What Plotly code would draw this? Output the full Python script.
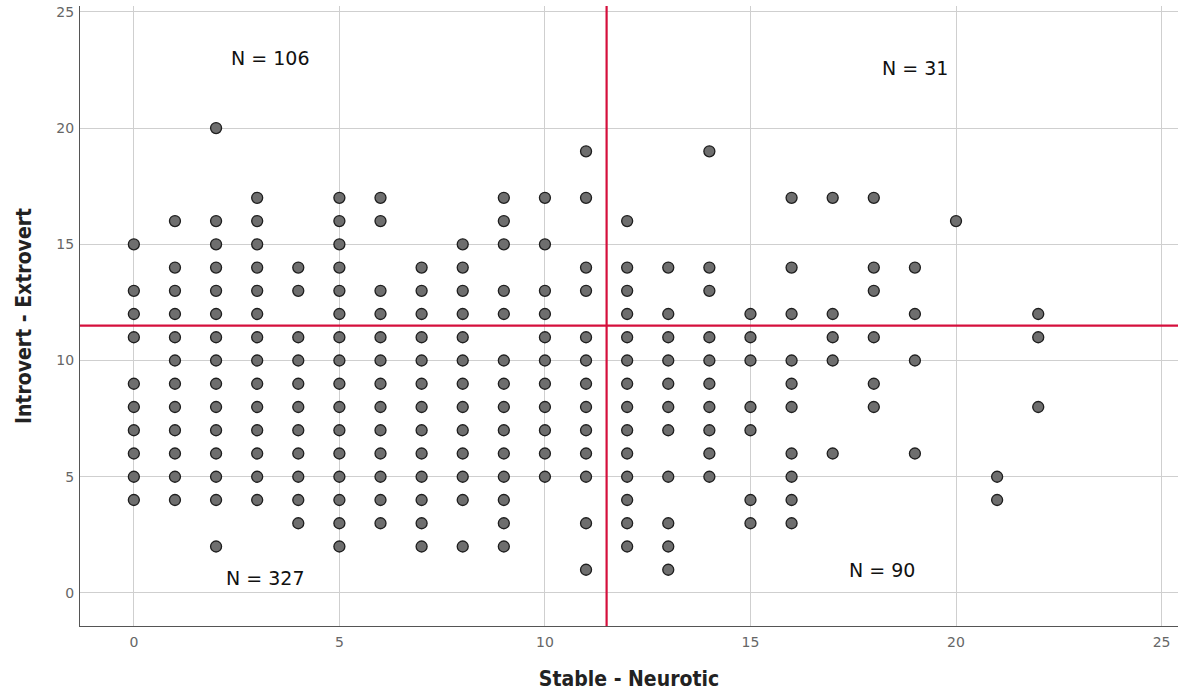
import plotly.graph_objects as go

# Stable - Neurotic score (x) and the Introvert - Extrovert scores observed at each x
neurotic_scores = list(range(23))
extrovert_at_score = [
    [15, 13, 12, 11, 9, 8, 7, 6, 5, 4],                                   # 0
    [16, 14, 13, 12, 11, 10, 9, 8, 7, 6, 5, 4],                           # 1
    [20, 16, 15, 14, 13, 12, 11, 10, 9, 8, 7, 6, 5, 4, 2],                # 2
    [17, 16, 15, 14, 13, 12, 11, 10, 9, 8, 7, 6, 5, 4],                   # 3
    [14, 13, 11, 10, 9, 8, 7, 6, 5, 4, 3],                                # 4
    [17, 16, 15, 14, 13, 12, 11, 10, 9, 8, 7, 6, 5, 4, 3, 2],             # 5
    [17, 16, 13, 12, 11, 10, 9, 8, 7, 6, 5, 4, 3],                        # 6
    [14, 13, 12, 11, 10, 9, 8, 7, 6, 5, 4, 3, 2],                         # 7
    [15, 14, 13, 12, 11, 10, 9, 8, 7, 6, 5, 4, 2],                        # 8
    [17, 16, 15, 13, 12, 10, 9, 8, 7, 6, 5, 4, 3, 2],                     # 9
    [17, 15, 13, 12, 11, 10, 9, 8, 7, 6, 5],                              # 10
    [19, 17, 14, 13, 11, 10, 9, 8, 7, 6, 5, 3, 1],                        # 11
    [16, 14, 13, 12, 11, 10, 9, 8, 7, 6, 5, 4, 3, 2],                     # 12
    [14, 12, 11, 10, 9, 8, 7, 5, 3, 2, 1],                                # 13
    [19, 14, 13, 11, 10, 9, 8, 7, 6, 5],                                  # 14
    [12, 11, 10, 8, 7, 4, 3],                                             # 15
    [17, 14, 12, 10, 9, 8, 6, 5, 4, 3],                                   # 16
    [17, 12, 11, 10, 6],                                                  # 17
    [17, 14, 13, 11, 9, 8],                                               # 18
    [14, 12, 10, 6],                                                      # 19
    [16],                                                                 # 20
    [5, 4],                                                               # 21
    [12, 11, 8],                                                          # 22
]

neurotic_cut = 11.5
extrovert_cut = 11.5

quadrant_labels = ["N = 106", "N = 31", "N = 327", "N = 90"]
quadrant_label_x = [3.3, 19.0, 3.2, 18.2]
quadrant_label_y = [23.03, 22.58, 0.65, 1.0]

x_ticks = [0, 5, 10, 15, 20, 25]
y_ticks = [0, 5, 10, 15, 20, 25]

xs, ys = [], []
for xv, col in zip(neurotic_scores, extrovert_at_score):
    for yv in col:
        xs.append(xv)
        ys.append(yv)

fig = go.Figure()
fig.add_trace(go.Scatter(
    x=xs, y=ys, mode="markers",
    marker=dict(size=11, color="#6e6e6e", line=dict(color="#1e1e1e", width=1.3)),
    showlegend=False, cliponaxis=False, hoverinfo="skip",
))

red = "#d50f3c"
fig.add_vline(x=neurotic_cut, line=dict(color=red, width=2.2), layer="above")
fig.add_hline(y=extrovert_cut, line=dict(color=red, width=2.2), layer="above")

for t, ax, ay in zip(quadrant_labels, quadrant_label_x, quadrant_label_y):
    fig.add_annotation(x=ax, y=ay, text=t, showarrow=False,
                       font=dict(family="DejaVu Sans, Lato, sans-serif", size=19, color="#111"))

title_font = dict(family="DejaVu Sans Condensed, Liberation Sans Narrow, DejaVu Sans, sans-serif",
                  size=21, color="#222", weight="bold")
tick_font = dict(family="DejaVu Sans, sans-serif", size=14, color="#666")

fig.update_xaxes(
    range=[-1.31, 25.4], tickvals=x_ticks, showgrid=True, gridcolor="#cfcfcf", gridwidth=1,
    zeroline=False, showline=True, linecolor="#555", linewidth=1.2,
    tickfont=tick_font, ticks="", ticklabelstandoff=3, automargin=False,
    title=dict(text="Stable - Neurotic", font=title_font, standoff=22),
)
fig.update_yaxes(
    range=[-1.42, 25.25], tickvals=y_ticks, showgrid=True, gridcolor="#cfcfcf", gridwidth=1,
    zeroline=False, showline=True, linecolor="#555", linewidth=1.2,
    tickfont=tick_font, ticks="", ticklabelstandoff=2, automargin=False,
    title=dict(text="Introvert - Extrovert", font=title_font, standoff=18),
)

fig.update_layout(
    width=1183, height=695,
    margin=dict(l=80, r=5, t=6, b=69),
    plot_bgcolor="white", paper_bgcolor="white",
    hovermode=False,
)

fig.write_html("out.html", config={"displayModeBar": False},
               post_script="document.body.style.margin='0';document.body.style.padding='0';")
